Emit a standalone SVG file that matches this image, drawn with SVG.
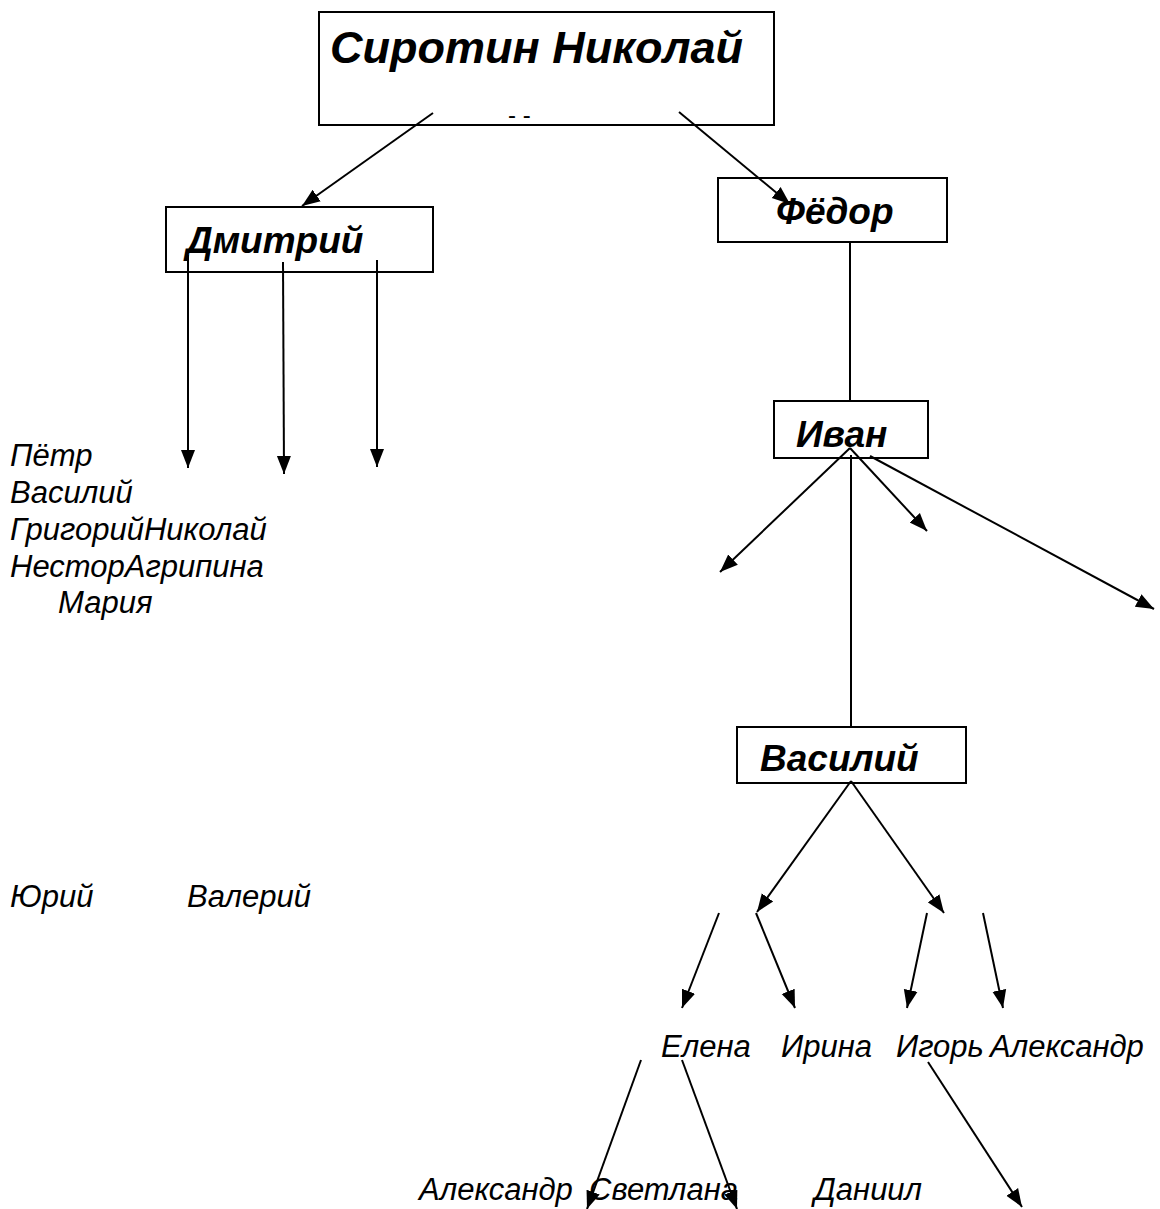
<svg xmlns="http://www.w3.org/2000/svg" width="1160" height="1209" viewBox="0 0 1160 1209">
<style>
.box{fill:#fff;stroke:#000;stroke-width:2}
.bn{font-family:"Liberation Sans",Arial,sans-serif;font-weight:bold;font-style:italic;font-size:37px;fill:#000}
.nm{font-family:"Liberation Sans",Arial,sans-serif;font-style:italic;font-size:31px;fill:#000}
.ln{stroke:#000;stroke-width:2;fill:none}
.ar{stroke:#000;stroke-width:2;fill:none;marker-end:url(#ah)}
</style>
<defs>
<marker id="ah" markerUnits="userSpaceOnUse" markerWidth="20" markerHeight="16" refX="18" refY="8" orient="auto">
<path d="M0,1 L18,8 L0,15 z" fill="#000"/>
</marker>
</defs>
<rect width="1160" height="1209" fill="#fff"/>
<g id="node-sirotin">
<rect class="box" x="319" y="12" width="455" height="113"/>
<text class="bn" x="330" y="63" style="font-size:45px">Сиротин Николай</text>
<text x="508" y="123" font-family="Liberation Sans, Arial, sans-serif" font-size="24">- -</text>
</g>
<g id="node-dmitriy">
<rect class="box" x="166" y="207" width="267" height="65"/>
<text class="bn" x="186" y="253">Дмитрий</text>
</g>
<g id="node-fedor">
<rect class="box" x="718" y="178" width="229" height="64"/>
<text class="bn" x="776" y="224">Фёдор</text>
</g>
<g id="node-ivan">
<rect class="box" x="774" y="401" width="154" height="57"/>
<text class="bn" x="796" y="447">Иван</text>
</g>
<g id="node-vasiliy">
<rect class="box" x="737" y="727" width="229" height="56"/>
<text class="bn" x="760" y="771">Василий</text>
</g>
<g id="names-left">
<text class="nm" x="10" y="466">Пётр</text>
<text class="nm" x="10" y="503">Василий</text>
<text class="nm" x="10" y="540">ГригорийНиколай</text>
<text class="nm" x="10" y="577">НесторАгрипина</text>
<text class="nm" x="58" y="613">Мария</text>
<text class="nm" x="10" y="907">Юрий</text>
<text class="nm" x="187" y="907">Валерий</text>
</g>
<g id="names-right">
<text class="nm" x="661" y="1057">Елена</text>
<text class="nm" x="781" y="1057">Ирина</text>
<text class="nm" x="896" y="1057">Игорь</text>
<text class="nm" x="990" y="1057">Александр</text>
<text class="nm" x="419" y="1200">Александр</text>
<text class="nm" x="589" y="1200">Светлана</text>
<text class="nm" x="814" y="1200">Даниил</text>
</g>
<g id="connectors">
<line class="ar" x1="433" y1="113" x2="302" y2="206"/>
<line class="ar" x1="679" y1="112" x2="790" y2="204"/>
<line class="ar" x1="188" y1="255" x2="188" y2="468"/>
<line class="ar" x1="283" y1="262" x2="284" y2="474"/>
<line class="ar" x1="377" y1="260" x2="377" y2="467"/>
<line class="ln" x1="850" y1="242" x2="850" y2="402"/>
<line class="ar" x1="850" y1="448" x2="720" y2="572"/>
<line class="ar" x1="850" y1="448" x2="927" y2="531"/>
<line class="ar" x1="870" y1="456" x2="1154" y2="609"/>
<line class="ln" x1="851" y1="455" x2="851" y2="727"/>
<line class="ar" x1="851" y1="781" x2="757" y2="912"/>
<line class="ar" x1="851" y1="781" x2="944" y2="913"/>
<line class="ar" x1="719" y1="913" x2="682" y2="1008"/>
<line class="ar" x1="756" y1="913" x2="795" y2="1008"/>
<line class="ar" x1="927" y1="913" x2="907" y2="1008"/>
<line class="ar" x1="983" y1="913" x2="1003" y2="1008"/>
<line class="ar" x1="641" y1="1060" x2="587" y2="1209"/>
<line class="ar" x1="682" y1="1060" x2="737" y2="1209"/>
<line class="ar" x1="928" y1="1062" x2="1022" y2="1207"/>
</g>
</svg>
